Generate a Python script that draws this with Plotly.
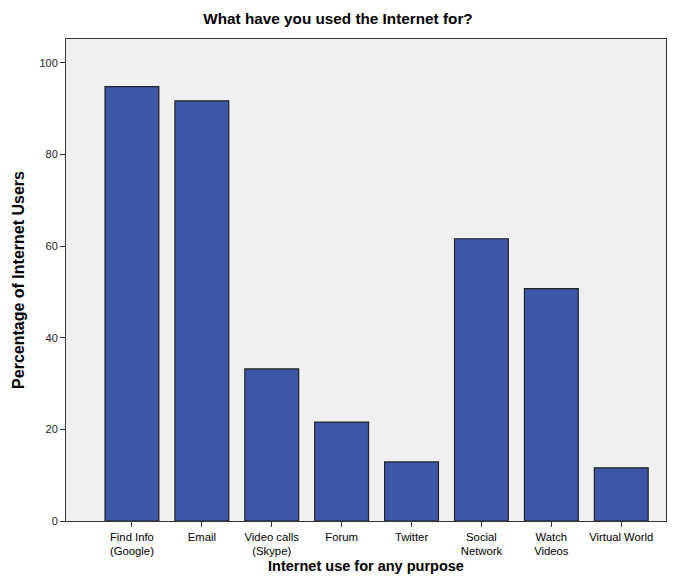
import plotly.graph_objects as go

categories = ["Find Info<br>(Google)", "Email", "Video calls<br>(Skype)", "Forum", "Twitter",
              "Social<br>Network", "Watch<br>Videos", "Virtual World"]
percentages = [94.8, 91.7, 33.2, 21.6, 12.9, 61.6, 50.7, 11.6]
y_ticks = [0, 20, 40, 60, 80, 100]

fig = go.Figure(go.Bar(
    x=list(range(len(categories))), y=percentages,
    marker=dict(color="#3D57A8", line=dict(color="#222222", width=1.2)),
    width=0.77,
))

font = "Liberation Sans, Arial, sans-serif"
fig.update_layout(
    width=676, height=576,
    margin=dict(l=66, r=10, t=39, b=55),
    paper_bgcolor="white", plot_bgcolor="#F0F0F0",
    title=dict(text="<b>What have you used the Internet for?</b>", x=0.5, xanchor="center",
               y=0.968, yanchor="middle", font=dict(family=font, size=15.3, color="black")),
    font=dict(family=font, size=11, color="black"),
    showlegend=False,
    xaxis=dict(
        tickmode="array", tickvals=list(range(len(categories))), ticktext=categories,
        range=[-0.943, 7.64], showgrid=False, zeroline=False,
        showline=True, linecolor="#333333", linewidth=1, mirror=True,
        ticks="outside", ticklen=5, tickcolor="#333333",
        tickfont=dict(size=11.3, family=font), automargin=False,
        title=dict(text="<b>Internet use for any purpose</b>", standoff=4,
                   font=dict(size=14.5, family=font)),
    ),
    yaxis=dict(
        range=[0, 105.2], tickvals=y_ticks, showgrid=False, zeroline=False,
        showline=True, linecolor="#333333", linewidth=1, mirror=True,
        ticks="outside", ticklen=5, tickcolor="#333333",
        tickfont=dict(size=11, family=font, color="#222222"), automargin=False,
        title=dict(text="<b>Percentage of Internet Users</b>", standoff=10,
                   font=dict(size=16, family=font)),
    ),
)

fig.write_html("out.html", config={"displayModeBar": False},
               post_script="document.body.style.margin='0px';")
